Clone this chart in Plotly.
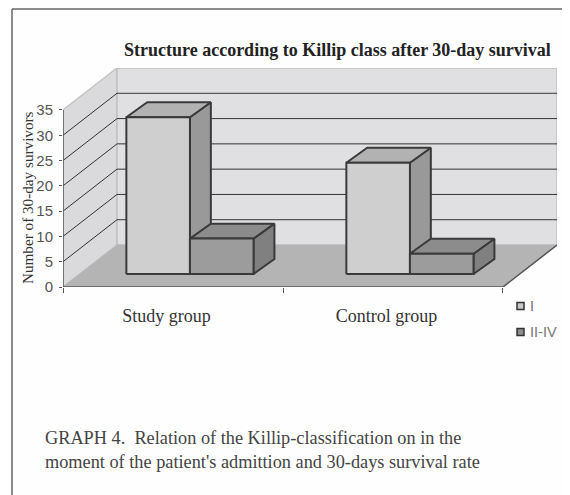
import plotly.graph_objects as go

categories = ["Study group", "Control group"]
series_names = ["I", "II-IV"]
class_i = [31, 22]
class_ii_iv = [7, 4]
y_ticks = [0, 5, 10, 15, 20, 25, 30, 35]

# the page has a body margin, so everything below is given in window pixels
PAGE = 8
WIDTH, HEIGHT = 570 - PAGE, 495 - PAGE
LEFT, RIGHT, TOP, BOTTOM = 63 - PAGE, 557 - PAGE, 68 - PAGE, 287 - PAGE

# fake 3d projection, x in category units and y in value units
WALL_DX, WALL_DY = 0.2455, 8.3
BAR_DX, BAR_DY = 0.095, 2.96
LIFT_DX, LIFT_DY = 0.077, 2.57
BAR_WIDTH = 0.289
LABEL_SHIFT = 0.03

EDGE = "#3a3a3a"
FONT_SERIF = "Liberation Serif"
FONT_SANS = "Liberation Sans"


def px(x):
    return (x - PAGE - LEFT) / (RIGHT - LEFT)


def py(y):
    return (BOTTOM - (y - PAGE)) / (BOTTOM - TOP)


def polygon(xs, ys, fill, line=EDGE, width=2):
    return go.Scatter(
        x=xs + xs[:1],
        y=ys + ys[:1],
        mode="lines",
        fill="toself",
        fillcolor=fill,
        line=dict(color=line, width=width),
        hoverinfo="skip",
        showlegend=False,
        cliponaxis=False,
    )


def box(left, value, front, side, top):
    x0 = left + LIFT_DX
    x1 = x0 + BAR_WIDTH
    y0 = LIFT_DY
    y1 = LIFT_DY + value
    return [
        polygon([x1, x1 + BAR_DX, x1 + BAR_DX, x1], [y0, y0 + BAR_DY, y1 + BAR_DY, y1], side),
        polygon([x0, x0 + BAR_DX, x1 + BAR_DX, x1], [y1, y1 + BAR_DY, y1 + BAR_DY, y1], top),
        polygon([x0, x1, x1, x0], [y0, y0, y1, y1], front),
    ]


fig = go.Figure()

n = len(categories)
x_end = n + WALL_DX
y_end = y_ticks[-1] + WALL_DY

# walls and floor
fig.add_trace(polygon([0, WALL_DX, WALL_DX, 0], [0, WALL_DY, y_end, y_ticks[-1]], "#dadadc", "#c4c4c4", 1.5))
fig.add_trace(polygon([WALL_DX, x_end, x_end, WALL_DX], [WALL_DY, WALL_DY, y_end, y_end], "#e0e0e2", "#c0c0c0", 1.5))
fig.add_trace(polygon([0, n, x_end, WALL_DX], [0, 0, WALL_DY, WALL_DY], "#b4b4b4", "#b4b4b4", 0.5))

# gridlines run along the side wall and the back wall
grid_x, grid_y = [], []
for v in y_ticks[1:-1]:
    grid_x += [0, WALL_DX, x_end, None]
    grid_y += [v, v + WALL_DY, v + WALL_DY, None]
fig.add_trace(go.Scatter(x=grid_x, y=grid_y, mode="lines", line=dict(color="#333333", width=1),
                         hoverinfo="skip", showlegend=False, cliponaxis=False))

# axis lines
fig.add_trace(go.Scatter(x=[0, 0, None, 0, n, x_end], y=[y_ticks[-1], 0, None, 0, 0, WALL_DY], mode="lines",
                         line=dict(color="#555555", width=1.5), hoverinfo="skip",
                         showlegend=False, cliponaxis=False))

for i in range(n):
    gap = (1 - 2 * BAR_WIDTH) / 2
    for t in box(i + gap, class_i[i], "#cfcfcf", "#999999", "#b2b2b2"):
        fig.add_trace(t)
    for t in box(i + gap + BAR_WIDTH, class_ii_iv[i], "#9c9c9c", "#808080", "#8c8c8c"):
        fig.add_trace(t)

annotations = [
    dict(x=px(337), y=py(50), text="<b>Structure according to Killip class after 30-day survival</b>",
         font=dict(family=FONT_SERIF, size=18, color="#222222")),
    dict(x=px(27), y=py(198), text="Number of 30-day survivors", textangle=-90,
         font=dict(family=FONT_SERIF, size=15.2, color="#333333")),
    dict(x=px(43), y=py(450), xanchor="left", align="left",
         text="GRAPH 4.  Relation of the Killip-classification on in the<br>"
              "moment of the patient's admittion and 30-days survival rate",
         font=dict(family=FONT_SERIF, size=18.3, color="#444444")),
]
for name, ly in zip(series_names, [306, 332]):
    annotations.append(dict(x=px(528), y=py(ly), xanchor="left", text=name,
                            font=dict(family=FONT_SANS, size=14.5, color="#777777")))
for a in annotations:
    a.update(xref="paper", yref="paper", showarrow=False)
    a.setdefault("xanchor", "center")
    a["yanchor"] = "middle"

# page frame, the top edge sits as high as the body margin lets it
shapes = [
    dict(type="line", xref="paper", yref="paper", x0=px(12), x1=px(12), y0=py(9), y1=py(500),
         line=dict(color="#666666", width=1.5)),
    dict(type="line", xref="paper", yref="paper", x0=px(12), x1=px(575), y0=py(9), y1=py(9),
         line=dict(color="#666666", width=1.5)),
]
for fill, ly in zip(["#c8c8c8", "#8e8e8e"], [306, 332]):
    shapes.append(dict(type="rect", xref="paper", yref="paper", x0=px(517), x1=px(524), y0=py(ly + 3.5), y1=py(ly - 3.5),
                       fillcolor=fill, line=dict(color="#333333", width=1.5)))

fig.update_layout(
    width=WIDTH,
    height=HEIGHT,
    autosize=False,
    margin=dict(l=LEFT, r=WIDTH - RIGHT, t=TOP, b=HEIGHT - BOTTOM, pad=0),
    paper_bgcolor="#fefefe",
    plot_bgcolor="#fefefe",
    showlegend=False,
    annotations=annotations,
    shapes=shapes,
    xaxis=dict(
        range=[0, x_end],
        tickvals=[i + 0.5 - LABEL_SHIFT for i in range(n)],
        ticktext=categories,
        ticks="",
        ticklabelstandoff=16,
        tickfont=dict(family=FONT_SERIF, size=18, color="#333333"),
        showgrid=False,
        zeroline=False,
        showline=False,
        minor=dict(tickvals=list(range(n + 1)), ticks="outside", ticklen=5, tickcolor="#555555", showgrid=False),
    ),
    yaxis=dict(
        range=[0, y_end],
        tickvals=y_ticks,
        ticks="outside",
        ticklen=3,
        tickcolor="#555555",
        ticklabelstandoff=3,
        tickfont=dict(family=FONT_SANS, size=15, color="#555555"),
        showgrid=False,
        zeroline=False,
        showline=False,
    ),
)

fig.write_html("out.html")
